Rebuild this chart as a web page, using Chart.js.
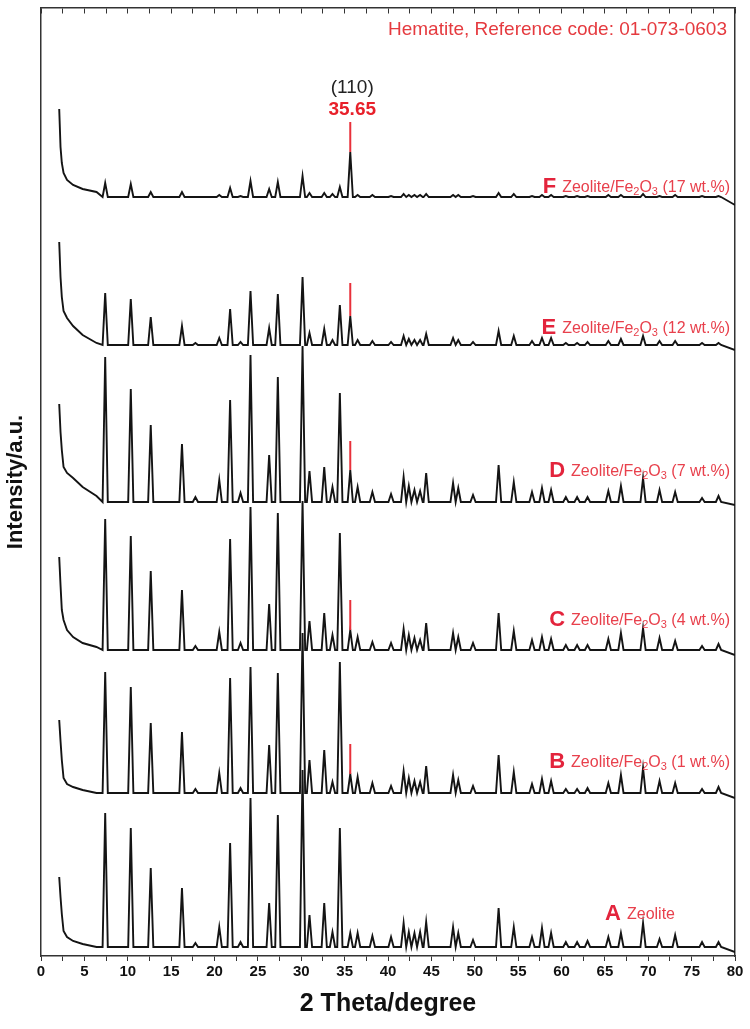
<!DOCTYPE html>
<html><head><meta charset="utf-8">
<script src="https://cdn.jsdelivr.net/npm/chart.js@4.4.1/dist/chart.umd.min.js"></script>
<style>html,body{margin:0;padding:0;background:#fff;}</style>
</head><body>
<canvas id="c" width="750" height="1029"></canvas>
<script>
// ---------- DATA ----------
const sampleLetters = ['A', 'B', 'C', 'D', 'E', 'F'];
const sampleNames = ['Zeolite', 'Zeolite/Fe2O3 (1 wt.%)', 'Zeolite/Fe2O3 (4 wt.%)', 'Zeolite/Fe2O3 (7 wt.%)', 'Zeolite/Fe2O3 (12 wt.%)', 'Zeolite/Fe2O3 (17 wt.%)'];
// vertical stacking offset of each pattern (a.u.)
const offsets = [9, 163, 306, 454, 611, 759];
// low-angle background (2θ) and its intensity above each pattern's baseline
const decayX = [2.1, 2.25, 2.4, 2.6, 3.0, 3.7, 4.8, 6.4];
const decayA = [70, 50, 33, 16, 10, 6, 3, 0];
const decayB = [73, 52, 33, 15, 9, 6, 3, 0];
const decayC = [93, 65, 40, 30, 20, 13, 7, 3];
const decayD = [98, 70, 52, 35, 29, 24, 15, 6];
const decayE = [103, 68, 48, 34, 27, 19, 10, 2];
const decayF = [88, 50, 34, 24, 17, 12, 8, 5];
// reflection positions (2θ, degree)
const peakPos = [7.4, 10.35, 12.65, 16.25, 17.8, 20.55, 21.8, 23.0, 24.15, 26.3, 27.3, 30.15, 30.95, 32.65, 33.6, 34.45, 35.65, 36.5, 38.2, 40.35, 41.8, 42.4, 43.05, 43.7, 44.4, 47.5, 48.1, 49.8, 52.75, 54.5, 56.6, 57.75, 58.8, 60.5, 61.8, 63.0, 65.4, 66.85, 69.4, 71.3, 73.1, 76.2, 78.1];
// peak intensities above baseline (a.u.)
const zeoliteA = [134, 119, 79, 59, 4, 20, 104, 5, 149, 44, 132, 177, 32, 44, 15, 119, 14, 14, 11, 10, 24, 15, 14, 15, 25, 20, 14, 7, 39, 20, 10, 19, 14, 5, 5, 6, 10, 14, 24, 8, 12, 5, 5];
const fe1B = [121, 106, 70, 61, 4, 20, 115, 5, 126, 48, 120, 160, 33, 43, 11, 131, 19, 16, 10, 7, 22, 15, 12, 11, 27, 18, 13, 7, 38, 21, 9, 14, 12, 4, 4, 5, 10, 18, 25, 12, 10, 4, 6];
const fe4C = [131, 114, 79, 60, 4, 18, 111, 7, 143, 46, 137, 149, 29, 37, 15, 117, 20, 13, 8, 7, 21, 15, 12, 10, 27, 17, 13, 7, 37, 19, 10, 13, 11, 5, 5, 5, 11, 17, 22, 12, 9, 4, 6];
const fe7D = [145, 113, 77, 58, 5, 22, 102, 9, 147, 47, 125, 156, 31, 35, 15, 109, 32, 15, 10, 8, 25, 16, 12, 11, 29, 19, 14, 7, 37, 20, 10, 14, 12, 5, 5, 5, 11, 16, 24, 12, 10, 4, 6];
const fe12E = [52, 46, 28, 19, 2, 7, 36, 3, 54, 17, 51, 68, 12, 16, 5, 40, 29, 5, 4, 3, 9, 6, 5, 5, 11, 7, 5, 3, 14, 9, 4, 7, 7, 2, 2, 3, 4, 6, 9, 4, 4, 2, 2];
const fe17F = [14, 13, 5, 5, 0, 2, 9, 1, 16, 8, 15, 21, 4, 4, 3, 10, 45, 2, 2, 1, 3, 2, 2, 2, 3, 2, 2, 1, 4, 3, 1, 2, 2, 1, 1, 1, 2, 2, 3, 1, 2, 1, 1];
// level at 80° relative to baseline
const endLevel = [-5, -5, -5, -3, -5, -8];
// hematite (110) reflection and marker tops for B..F
const hematitePos = 35.65;
const hematiteMarkTop = [null, 49, 50, 61, 62, 75];
const xTicks = { min: 0, max: 80, step: 2.5, labelEvery: 5 };
const hematiteTitle = 'Hematite, Reference code: 01-073-0603';
const hklLabel = '(110)';
const hematiteLabel = '35.65';
const xTitle = '2 Theta/degree';
const yTitle = 'Intensity/a.u.';

// ---------- build datasets ----------
const decays = [decayA, decayB, decayC, decayD, decayE, decayF];
const heights = [zeoliteA, fe1B, fe4C, fe7D, fe12E, fe17F];
const HW = 0.3;
const datasets = [];
heights.forEach((h, i) => {
  const pts = [];
  decayX.forEach((x, k) => pts.push({ x, y: offsets[i] + decays[i][k] }));
  peakPos.forEach((p, k) => {
    pts.push({ x: p - HW, y: offsets[i] });
    pts.push({ x: p, y: offsets[i] + h[k] });
    pts.push({ x: p + HW, y: offsets[i] });
  });
  pts.push({ x: 80, y: offsets[i] + endLevel[i] });
  datasets.push({ data: pts, borderColor: '#141414', borderWidth: 1.9, pointRadius: 0, tension: 0, fill: false, order: 2 });
});
const hIdx = peakPos.indexOf(hematitePos);
hematiteMarkTop.forEach((top, i) => {
  if (top == null) return;
  datasets.push({
    data: [{ x: hematitePos, y: offsets[i] + heights[i][hIdx] }, { x: hematitePos, y: offsets[i] + top }],
    borderColor: '#e8303a', borderWidth: 2, pointRadius: 0, fill: false, order: 1
  });
});

const FONT = '"Liberation Sans", Arial, Helvetica, sans-serif';
const RED = '#e3243c';
const RED2 = '#e8404c';
const labelCY = [912, 760, 618, 469, 326, 185];
const labelRight = [675, 730, 730, 730, 730, 730];

function drawSample(ctx, rightX, cy, letter, name) {
  const base = cy + 7;
  const parts = [];
  const m = name.match(/^(.*Fe)2(O)3(.*)$/);
  if (m) {
    parts.push({ t: m[1] }, { t: '2', sub: true }, { t: m[2] }, { t: '3', sub: true }, { t: m[3] });
  } else parts.push({ t: name });
  const fMain = '16px ' + FONT, fSub = '11px ' + FONT, fLet = 'bold 22px ' + FONT;
  let w = 0;
  parts.forEach(p => { ctx.font = p.sub ? fSub : fMain; p.w = ctx.measureText(p.t).width; w += p.w; });
  ctx.font = fLet;
  const lw = ctx.measureText(letter).width;
  const gap = 6;
  let x = rightX - w - gap - lw;
  ctx.textAlign = 'left';
  ctx.textBaseline = 'alphabetic';
  ctx.fillStyle = RED;
  ctx.fillText(letter, x, base + 1);
  x += lw + gap;
  ctx.fillStyle = RED2;
  parts.forEach(p => {
    ctx.font = p.sub ? fSub : fMain;
    ctx.fillText(p.t, x, p.sub ? base + 3 : base);
    x += p.w;
  });
}

const annot = {
  id: 'annot',
  afterDatasetsDraw(chart) {
    const { ctx, scales } = chart;
    const xs = scales.x, ys = scales.y;
    ctx.save();
    ctx.font = '19px ' + FONT;
    ctx.fillStyle = '#e53a3f';
    ctx.textAlign = 'right';
    ctx.textBaseline = 'middle';
    ctx.fillText(hematiteTitle, 727, 30);
    const hx = xs.getPixelForValue(hematitePos) + 2;
    const topPx = ys.getPixelForValue(offsets[5] + hematiteMarkTop[5]);
    ctx.textAlign = 'center';
    ctx.fillStyle = '#222';
    ctx.font = '19px ' + FONT;
    ctx.fillText(hklLabel, hx, topPx - 34);
    ctx.fillStyle = '#e8202a';
    ctx.font = 'bold 19px ' + FONT;
    ctx.fillText(hematiteLabel, hx, topPx - 12);
    sampleLetters.forEach((L, i) => drawSample(ctx, labelRight[i], labelCY[i], L, sampleNames[i]));
    ctx.restore();
  }
};

new Chart(document.getElementById('c'), {
  type: 'line',
  data: { datasets },
  plugins: [annot],
  options: {
    responsive: false,
    animation: false,
    events: [],
    layout: { padding: { left: 0, right: 15, top: 8, bottom: 0 } },
    plugins: { legend: { display: false }, tooltip: { enabled: false } },
    scales: {
      x: {
        type: 'linear', position: 'bottom', min: xTicks.min, max: xTicks.max,
        ticks: {
          stepSize: xTicks.step, autoSkip: false, maxRotation: 0, padding: 2, color: '#111',
          font: { family: FONT, size: 15, weight: 'bold' },
          callback: v => (Math.abs(v % xTicks.labelEvery) < 1e-6 ? String(v) : '')
        },
        grid: { drawOnChartArea: false, drawTicks: true, tickLength: 5, tickColor: '#333', tickWidth: 1 },
        border: { display: true, color: '#333', width: 1.5 },
        title: { display: true, text: xTitle, color: '#111', font: { family: FONT, size: 25, weight: 'bold' }, padding: { top: 0, bottom: 10 } },
        afterFit: s => { s.height = 73; }
      },
      x2: {
        type: 'linear', position: 'top', min: xTicks.min, max: xTicks.max,
        ticks: { display: false, stepSize: xTicks.step },
        grid: { display: true, drawOnChartArea: true, drawTicks: false, color: '#333', lineWidth: 1 },
        border: { display: true, color: '#333', width: 1.5, dash: [5, 3000] },
        afterFit: s => { s.height = 0; }
      },
      y: {
        type: 'linear', position: 'left', min: 0, max: 948,
        ticks: { display: false },
        grid: { display: false },
        border: { display: true, color: '#333', width: 1.5 },
        title: { display: true, text: yTitle, color: '#111', font: { family: FONT, size: 22, weight: 'bold' }, padding: { top: 3, bottom: 0 } },
        afterFit: s => { s.width = 41; }
      },
      y2: {
        type: 'linear', position: 'right', min: 0, max: 948,
        ticks: { display: false },
        grid: { display: false },
        border: { display: true, color: '#333', width: 1.5 },
        afterFit: s => { s.width = 0; }
      }
    }
  }
});
</script>
</body></html>
